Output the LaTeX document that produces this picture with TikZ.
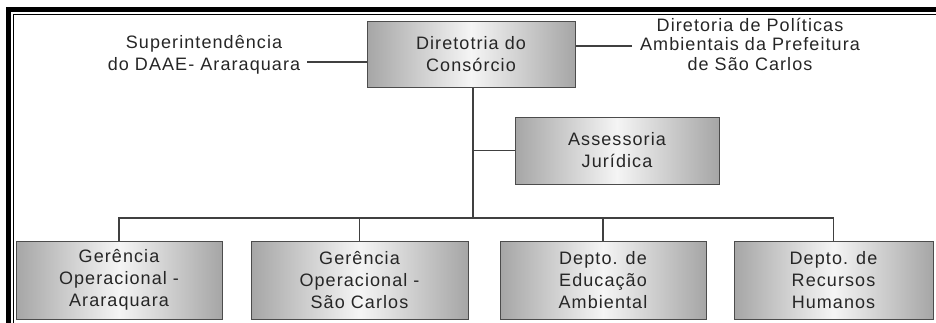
\documentclass[tikz,border=0pt]{standalone}
\usepackage{fontspec}
\setmainfont{Liberation Sans}[LetterSpace=6]
\usetikzlibrary{calc}

\tikzset{
    orgbox/.style={draw=black!70, line width=1pt, left color=black!35, right color=black!35,
        middle color=black!4, align=center, inner sep=0pt},
    orgtext/.style={align=center, inner sep=0pt},
    orgline/.style={draw=black!75, line width=1.2pt}
}

\begin{document}
\begin{tikzpicture}[x=1pt, y=-1pt, font=\fontsize{18}{22}\selectfont, text=black!85]
    \useasboundingbox (0,0) rectangle (936,322);

    % Double frame
    \draw[line width=5pt] (940,9.5) -| (8.5,330);
    \draw[line width=1.5pt] (940,14.5) -| (13.5,330);

    % Top level
    \node[orgbox, minimum width=208pt, minimum height=66pt] (dir) at (471,54.5) {Diretotria do\\Consórcio};
    \node[orgtext] (sup) at (204,55) {Superintendência\\do DAAE- Araraquara};
    \node[orgtext, font=\fontsize{18}{19.5}\selectfont] (pol) at (750,44) {Diretoria de Políticas\\Ambientais da Prefeitura\\de São Carlos};
    \coordinate (supend) at (307,62);
    \coordinate (polend) at (632,46);
    \draw[orgline] (supend) -- (supend -| dir.west);
    \draw[orgline] (polend) -- (polend -| dir.east);

    % Staff box
    \node[orgbox, minimum width=204pt, minimum height=67pt] (jur) at (617,150.5) {Assessoria\\Jurídica};

    % Bottom level
    \node[orgbox, minimum width=206pt, minimum height=78pt] (ger1) at (119,280) {Gerência\\Operacional -\\Araraquara};
    \node[orgbox, minimum width=217pt, minimum height=78pt] (ger2) at (359.5,280) {Gerência\\Operacional -\\São Carlos};
    \node[orgbox, minimum width=206pt, minimum height=78pt] (edu) at (603,280) {Depto. de\\Educação\\Ambiental};
    \node[orgbox, minimum width=199pt, minimum height=78pt] (rh) at (833.5,280) {Depto. de\\Recursos\\Humanos};

    % Connectors
    \coordinate (bus) at (473,218);
    \draw[orgline] (dir.south -| bus) -- (bus);
    \draw[orgline] (jur.west -| bus) -- (jur.west);
    \draw[orgline] (ger1.north) |- (bus) -| (rh.north);
    \draw[orgline] (ger2.north) -- (ger2.north |- bus);
    \draw[orgline] (edu.north) -- (edu.north |- bus);
\end{tikzpicture}
\end{document}
